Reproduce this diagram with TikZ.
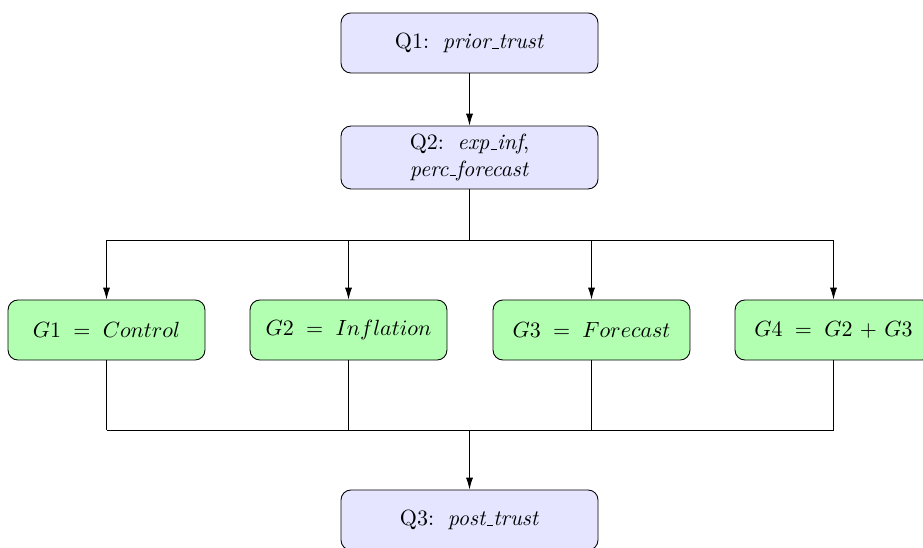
\documentclass[tikz,border=0pt]{standalone}
\usetikzlibrary{arrows.meta}
\newcommand\us{\leavevmode\kern.06em\vbox{\hrule width.3em}}
\begin{document}
\begin{tikzpicture}[x=0.4545pt, y=-0.4545pt, >={Latex[length=5.4pt,width=3.2pt]},
  qbox/.style={draw, rounded corners=4.5pt, fill=blue!10, minimum width=116.8pt, minimum height=27.3pt, align=center, inner sep=2pt},
  gbox/.style={draw, rounded corners=4.5pt, fill=green!30, minimum width=89.5pt, minimum height=27.3pt, inner sep=2pt,
    execute at begin node={\thickmuskip=10mu\medmuskip=6mu}},
  conn/.style={draw, line width=0.4pt}]
\useasboundingbox (0,0) rectangle (923,547);
\node[qbox] (q1) at (469.5,43) {Q1:\hspace{6.2pt}\textit{prior\us trust}};
\node[qbox, minimum height=28.6pt] (q2) at (469.5,157.5) {Q2:\hspace{6.2pt}\textit{exp\us inf},\\ \textit{perc\us forecast}};
\node[gbox] (g1) at (106.5,330) {$G1 = Control$};
\node[gbox] (g2) at (348.5,330) {$G2 = Inflation$};
\node[gbox] (g3) at (591.5,330) {$G3 = Forecast$};
\node[gbox] (g4) at (833.5,330) {$G4 = G2 + G3$};
\node[qbox] (q3) at (469.5,520) {Q3:\hspace{6.2pt}\textit{post\us trust}};
\coordinate (split) at (469.5,240);
\coordinate (join) at (469.5,430);
\draw[->] (q1) -- (q2);
\draw (q2.south) -- (split);
\draw (g1.north |- split) -- (g4.north |- split);
\foreach \g in {g1,g2,g3,g4} {
  \draw[->] (\g.north |- split) -- (\g.north);
  \draw (\g.south) -- (\g.south |- join);
}
\draw (g1.south |- join) -- (g4.south |- join);
\draw[->] (join) -- (q3.north);
\end{tikzpicture}
\end{document}
